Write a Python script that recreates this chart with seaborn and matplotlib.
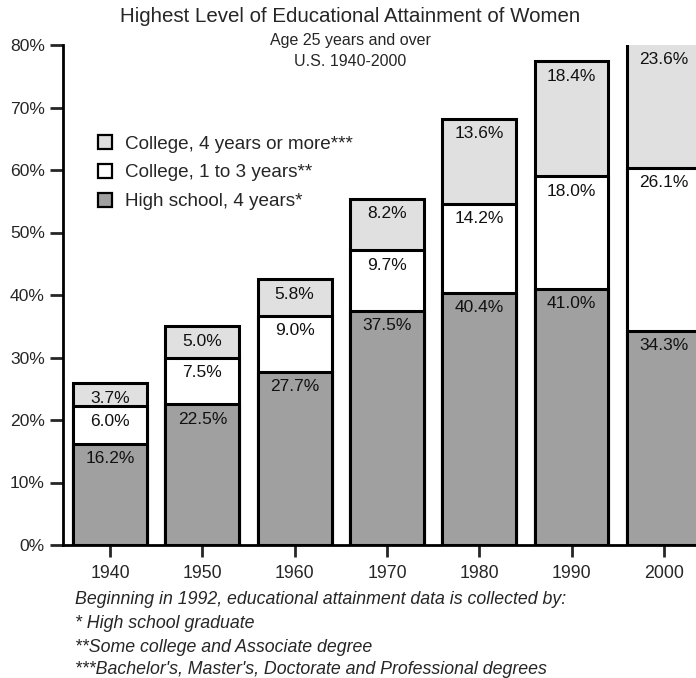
import matplotlib
matplotlib.use("Agg")
import matplotlib.pyplot as plt
import seaborn as sns
import pandas as pd
from matplotlib.patches import Patch

years = ["1940", "1950", "1960", "1970", "1980", "1990", "2000"]
high_school = [16.2, 22.5, 27.7, 37.5, 40.4, 41.0, 34.3]
college_1_3 = [6.0, 7.5, 9.0, 9.7, 14.2, 18.0, 26.1]
college_4 = [3.7, 5.0, 5.8, 8.2, 13.6, 18.4, 23.6]

series_names = ["High school, 4 years*", "College, 1 to 3 years**", "College, 4 years or more***"]
series_colors = ["#a0a0a0", "#ffffff", "#e0e0e0"]

sns.set_style("white")
plt.rcParams['font.family'] = ['Liberation Sans', 'DejaVu Sans']

fig = plt.figure(figsize=(6.96, 6.78), dpi=100)
ax = fig.add_axes([63/696, 133/678, 647/696, 500/678])

df = pd.DataFrame({"year": years, "hs": high_school, "c13": college_1_3, "c4": college_4})
df["cum1"] = df["hs"]
df["cum2"] = df["hs"] + df["c13"]
df["cum3"] = df["hs"] + df["c13"] + df["c4"]

for col, color in [("cum3", series_colors[2]), ("cum2", series_colors[1]), ("cum1", series_colors[0])]:
    sns.barplot(data=df, x="year", y=col, color=color, saturation=1, width=0.8,
                edgecolor="black", linewidth=2.2, ax=ax, order=years)

ymax = 80
ax.set_ylim(0, ymax)
ax.set_xlim(-0.51, 6.5)

for i in range(len(years)):
    tops = [df["cum1"][i], df["cum2"][i], df["cum3"][i]]
    vals = [high_school[i], college_1_3[i], college_4[i]]
    for t, v in zip(tops, vals):
        yy = min(t, ymax) - 1.2
        ax.text(i, yy, f"{v:.1f}%", ha="center", va="top", fontsize=12.5, color="#111111")

ax.set_yticks(range(0, 81, 10))
ax.set_yticklabels([f"{v}%" for v in range(0, 81, 10)])
ax.set_xlabel("")
ax.set_ylabel("")
for s in ["top", "right"]:
    ax.spines[s].set_visible(False)
for s in ["left", "bottom"]:
    ax.spines[s].set_linewidth(2)
    ax.spines[s].set_color("black")
ax.tick_params(axis="y", direction="out", length=9.4, width=2, labelsize=12.6, pad=3.6, left=True)
ax.tick_params(axis="x", direction="out", length=8.6, width=2, labelsize=12.8, pad=6, bottom=True)

handles = [Patch(facecolor=series_colors[2], edgecolor="black", linewidth=1.6, label=series_names[2]),
           Patch(facecolor=series_colors[1], edgecolor="black", linewidth=1.6, label=series_names[1]),
           Patch(facecolor=series_colors[0], edgecolor="black", linewidth=1.6, label=series_names[0])]
leg = fig.legend(handles=handles, loc="upper left", bbox_to_anchor=(98/696, 1 - 135/678), frameon=False,
                 fontsize=13.6, handlelength=0.75, handleheight=0.75, handletextpad=0.7, labelspacing=0.6,
                 borderpad=0, borderaxespad=0)

fig.text(350/696, 1 - 17/678, "Highest Level of Educational Attainment of Women", ha="center", va="center", fontsize=14.8)
fig.text(350/696, 1 - 40/678, "Age 25 years and over", ha="center", va="center", fontsize=11.5)
fig.text(350/696, 1 - 62/678, "U.S. 1940-2000", ha="center", va="center", fontsize=11.5)

notes = ["Beginning in 1992, educational attainment data is collected by:",
         "* High school graduate",
         "**Some college and Associate degree",
         "***Bachelor's, Master's, Doctorate and Professional degrees"]
for ypx, t in zip([599, 623, 647, 670], notes):
    fig.text(75/696, 1 - ypx/678, t, ha="left", va="center", fontsize=12.8, style="italic")

fig.savefig("out.png", dpi=100)
